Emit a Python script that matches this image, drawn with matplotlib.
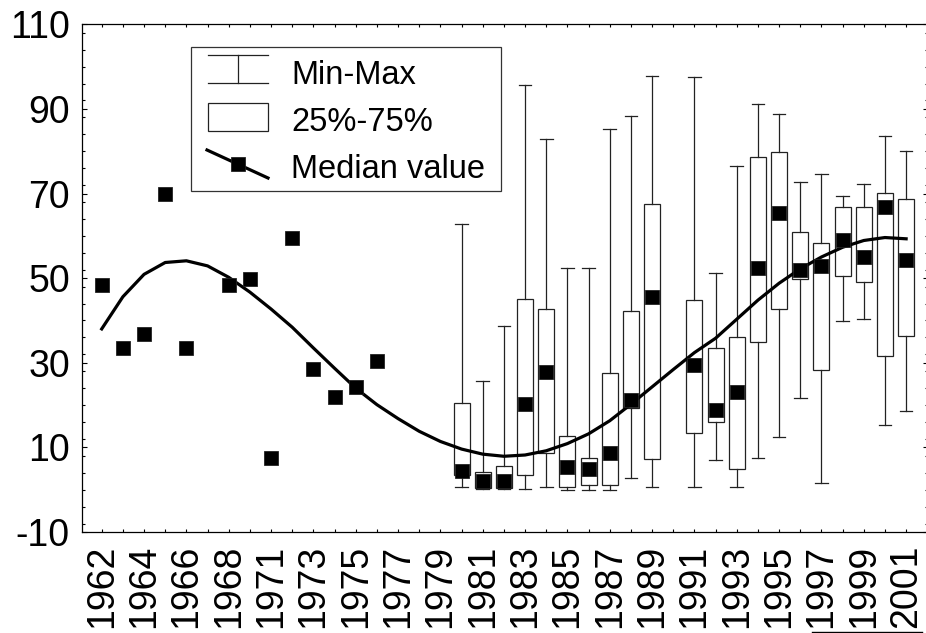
import matplotlib
matplotlib.use("Agg")
import matplotlib.pyplot as plt
from matplotlib.lines import Line2D
from matplotlib.patches import Rectangle
from matplotlib.ticker import MultipleLocator

plt.rcParams['font.family'] = ['Liberation Sans', 'DejaVu Sans']
plt.rcParams['axes.unicode_minus'] = False

# ---------------- data ----------------
categories = ['1962', '1963', '1964', '1965', '1966', '1967', '1968', '1970',
              '1971', '1972', '1973', '1974', '1975', '1976', '1977', '1978',
              '1979', '1980', '1981', '1982', '1983', '1984', '1985', '1986',
              '1987', '1988', '1989', '1990', '1991', '1992', '1993', '1994',
              '1995', '1996', '1997', '1998', '1999', '2000', '2001']

median_value = [48.3, 33.4, 36.7, 70.0, 33.4, None, 48.3, 49.8,
                7.6, 59.4, 28.5, 21.9, 24.2, 30.3, None, None,
                None, 4.5, 2.1, 2.1, 20.2, 27.7, 5.3, 4.8,
                8.7, 21.2, 45.6, None, 29.4, 18.8, 23.1, 52.5,
                65.5, 52.0, 52.8, 58.9, 55.0, 66.8, 54.3]

box_years = ['1980', '1981', '1982', '1983', '1984', '1985', '1986', '1987',
             '1988', '1989', '1991', '1992', '1993', '1994', '1995', '1996',
             '1997', '1998', '1999', '2000', '2001']
box_min = [0.7, 0.2, 0.2, 0.2, 0.7, 0.0, 0.0, 0.0, 2.7, 0.7, 0.6,
           7.1, 0.7, 7.5, 12.5, 21.7, 1.5, 39.9, 40.4, 15.2, 18.6]
box_q1 = [3.5, 0.5, 0.4, 3.5, 8.6, 0.7, 1.0, 1.0, 19.4, 7.2, 13.5,
          15.9, 4.8, 34.9, 42.8, 49.9, 28.3, 50.5, 49.1, 31.6, 36.3]
box_q3 = [20.4, 4.1, 5.6, 45.0, 42.6, 12.7, 7.6, 27.5, 42.3, 67.6, 44.8,
          33.6, 36.1, 78.6, 79.8, 60.9, 58.2, 66.7, 66.7, 70.2, 68.6]
box_max = [62.7, 25.7, 38.7, 95.6, 82.8, 52.3, 52.3, 85.2, 88.3, 97.7, 97.5,
           51.3, 76.6, 91.2, 88.9, 72.7, 74.7, 69.4, 72.2, 83.6, 80.1]

fit_curve = [38.0, 45.6, 50.9, 53.7, 54.1, 52.9, 50.2, 46.7,
             42.7, 38.4, 33.5, 28.7, 24.0, 20.1, 16.8, 13.8,
             11.4, 9.6, 8.4, 7.9, 8.2, 9.2, 10.9, 13.2,
             16.3, 20.2, 24.3, 28.4, 32.4, 35.8, 40.3, 44.8,
             48.8, 52.2, 55.0, 57.3, 58.9, 59.6, 59.3]

legend_labels = ['Min-Max', '25%-75%', 'Median value']

# ---------------- figure ----------------
W, H = 926, 633
fig = plt.figure(figsize=(W / 100, H / 100), dpi=100)
ax = fig.add_axes([81.7 / W, (H - 532) / H, (927.5 - 81.7) / W, (532 - 24.3) / H])

xpos = list(range(len(categories)))
pos_of = {c: i for i, c in enumerate(categories)}
box_pos = [pos_of[y] for y in box_years]

stats = []
for y, lo, q1, q3, hi in zip(box_years, box_min, box_q1, box_q3, box_max):
    stats.append(dict(label=y, med=median_value[pos_of[y]], q1=q1, q3=q3,
                      whislo=lo, whishi=hi))

ec = '#222222'
bp = ax.bxp(stats, positions=box_pos, widths=0.76, capwidths=0.6,
            patch_artist=True, showfliers=False, manage_ticks=False,
            boxprops=dict(facecolor='white', edgecolor=ec, linewidth=0.9),
            whiskerprops=dict(color=ec, linewidth=0.9),
            capprops=dict(color=ec, linewidth=0.9),
            medianprops=dict(linewidth=0))
for b in bp['boxes']:
    b.set_zorder(2)

# fitted curve
ax.plot(xpos, fit_curve, color='black', lw=2.3, zorder=4)

# median markers
mx = [i for i, v in enumerate(median_value) if v is not None]
my = [v for v in median_value if v is not None]
ax.plot(mx, my, 's', ms=10.5, color='black', mec='#222222', mew=0.6,
        zorder=5, linestyle='none')

# axes formatting
ax.set_xlim(-0.945, 39.01)
ax.set_ylim(-10, 110)
ax.set_xticks(xpos)
ax.set_xticklabels([c if i % 2 == 0 else '' for i, c in enumerate(categories)],
                   rotation=90, fontsize=27)
ax.yaxis.set_major_locator(MultipleLocator(20))
ax.yaxis.set_minor_locator(MultipleLocator(4))
ax.set_yticks(range(-10, 111, 20))
ax.tick_params(axis='y', which='major', direction='in', length=3.5, width=0.8,
               labelsize=27, pad=8.5, left=True, right=True)
ax.tick_params(axis='y', which='minor', direction='in', length=2, width=0.8,
               left=True, right=True)
ax.tick_params(axis='x', which='major', direction='in', length=2.5, width=0.8,
               pad=9, top=True, bottom=True)
for s in ax.spines.values():
    s.set_linewidth(0.9)
    s.set_color('black')

# ---------------- legend (drawn manually) ----------------
def fx(x):
    return x / W


def fy(y):
    return 1 - y / H


tf = fig.transFigure
fig.add_artist(Rectangle((fx(190.7), fy(191)), fx(501.3) - fx(190.7), fy(46.7) - fy(191),
                         transform=tf, facecolor='white', edgecolor='#333333',
                         linewidth=0.9, zorder=10))
# Min-Max glyph
for yy in (55, 83.3):
    fig.add_artist(Line2D([fx(208), fx(268)], [fy(yy), fy(yy)], transform=tf,
                          color=ec, lw=0.9, zorder=11))
fig.add_artist(Line2D([fx(238), fx(238)], [fy(55), fy(83.3)], transform=tf,
                      color=ec, lw=0.9, zorder=11))
# 25%-75% glyph
fig.add_artist(Rectangle((fx(208), fy(131)), fx(268) - fx(208), fy(102.7) - fy(131),
                         transform=tf, facecolor='white', edgecolor=ec,
                         linewidth=0.9, zorder=11))
# Median glyph
fig.add_artist(Line2D([fx(207), fx(268)], [fy(150), fy(178)], transform=tf,
                      color='black', lw=2.3, zorder=11))
fig.add_artist(Line2D([fx(237.7)], [fy(164.3)], transform=tf, marker='s',
                      ms=10.5, color='black', mec='#222222', mew=0.6,
                      linestyle='none', zorder=12))
for lab, base in zip(legend_labels, (84.3, 131, 178.3)):
    fig.text(fx(291), fy(base), lab, fontsize=23.5, ha='left', va='baseline',
             zorder=12)

# small stray rule at the bottom right of the original
fig.add_artist(Line2D([fx(812), fx(922)], [fy(632), fy(632)], transform=tf,
                      color='black', lw=1.0))

fig.savefig('out.png', dpi=100)
